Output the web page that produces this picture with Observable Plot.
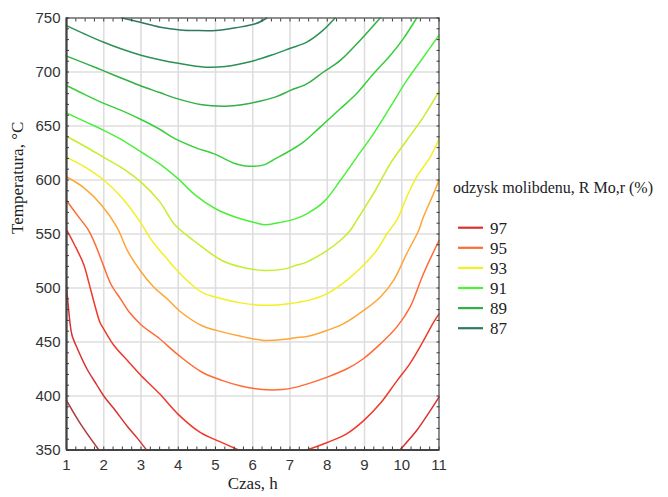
<!DOCTYPE html>
<html><head><meta charset="utf-8">
<script src="https://cdn.jsdelivr.net/npm/d3@7"></script>
<script src="https://cdn.jsdelivr.net/npm/@observablehq/plot@0.6"></script>
<style>
body{margin:0;background:#fff;}
#wrap{position:relative;width:668px;height:497px;overflow:hidden;background:#fff;}
#wrap svg.leg{position:absolute;left:0;top:0;}
</style></head><body><div id="wrap"></div>
<script>
// contour levels (odzysk molibdenu, %) and their colours
const levels = [98, 97, 96, 95, 94, 93, 92, 91, 90, 89, 88, 87];
const levelColors = ["#b03838", "#d83232", "#ee3a2a", "#ff6a35", "#ffa535", "#f2f020", "#c4ee2a", "#4cf03a", "#38d03a", "#30b045", "#2a9156", "#2e7a60"];
const legendLevels = [97, 95, 93, 91, 89, 87];
const xTicks = [1, 2, 3, 4, 5, 6, 7, 8, 9, 10, 11];
const yTicks = [350, 400, 450, 500, 550, 600, 650, 700, 750];
const xMinor = d3.range(1, 11.001, 0.25);
const yMinor = d3.range(350, 750.001, 10);

// contour lines: [czas h, temperatura °C]
const c98a = [[1,396],[1.38,374],[1.87,350]];
const c97a = [[1,501],[1.03,490],[1.06,479],[1.1,466],[1.15,456],[1.29,444],[1.55,425],[1.8,411],[2,400],[2.3,387],[2.63,372],[2.9,361],[3.15,350]];
const c97b = [[9.95,350],[10.4,368],[10.7,383],[11,399]];
const c96a = [[1,554],[1.2,541],[1.46,522],[1.6,505],[1.73,488],[1.9,468],[2,462],[2.27,447],[2.63,433],[3,419],[3.5,402],[4,383],[4.6,366],[5.1,358],[5.62,350]];
const c96b = [[7.45,350],[8,357],[8.52,365],[8.97,377],[9.42,393],[9.87,414],[10.22,430],[10.58,451],[10.85,468],[11,476]];
const c95 = [[1,581],[1.3,567],[1.6,553],[1.8,538],[2,520],[2.2,503],[2.45,490],[2.7,477],[3,466],[3.5,453],[4,438],[4.64,422],[5.17,414.5],[5.71,409],[6.25,406],[6.79,406],[7.14,408],[7.45,411],[8,417.5],[8.52,425],[8.97,434.5],[9.42,448],[9.87,464],[10.22,482],[10.58,513],[11,544]];
const c94 = [[1,603],[1.46,593],[1.91,578],[2.36,556],[2.63,535],[2.98,516],[3.34,501],[3.7,490],[4.06,478],[4.64,465],[5,461],[5.71,455],[6.29,451.5],[6.87,452.5],[7.14,454],[7.45,455],[7.99,460.7],[8.44,467],[8.97,479],[9.42,491.5],[9.78,507],[10.13,531.6],[10.45,553],[10.58,565.7],[10.85,587],[11,600]];
const c93 = [[1,621],[1.5,612],[2,600],[2.5,583],[3,560],[3.25,546],[3.5,535],[3.7,527],[3.92,518],[4.3,505],[4.64,496],[5.17,490],[5.71,486],[6.34,484],[6.96,485.4],[7.54,489],[7.99,494.6],[8.52,507],[8.97,521],[9.33,535],[9.6,550],[9.87,563],[10.13,584],[10.4,603],[10.76,621],[11,638]];
const c92 = [[1,640.5],[1.5,631],[2,621],[2.5,611],[3,598],[3.5,580],[3.92,558],[4.41,544],[4.64,538],[5.17,525.5],[5.71,519.3],[6.29,516.2],[6.87,517.7],[7.14,520.8],[7.45,524],[7.99,534.7],[8.35,544],[8.61,553],[8.79,562.6],[9.24,587.3],[9.69,615],[10.13,636.6],[10.58,658.2],[11,682]];
const c91 = [[1,662],[1.5,654],[2,646],[2.5,637],[3,626],[3.5,615],[4,601],[4.46,586],[5,573.4],[5.53,565.7],[6.07,560.4],[6.35,558.6],[6.78,561],[7.14,564],[7.45,568.7],[7.9,579.5],[8.35,599.5],[8.79,621],[9.24,642.7],[9.69,667.4],[10.13,692],[10.58,713.7],[11,734]];
const c90 = [[1,687.5],[1.5,679],[2,671],[2.5,664],[3,656],[3.5,647],[3.92,638],[4.46,630],[5,623.7],[5.5,615.5],[5.8,613],[6.3,614],[6.6,619.6],[7.01,627.3],[7.36,635],[7.81,649],[8.35,666],[8.79,680],[9.24,698.3],[9.69,715.3],[10.04,730.7],[10.4,750]];
const c89 = [[1,714.7],[1.5,708],[2,701],[2.5,694],[3,687],[3.5,681],[3.92,675.8],[4.64,669.6],[5.26,668.4],[5.71,669.6],[6.16,672.7],[6.6,676.7],[7.01,683],[7.45,689],[7.9,700],[8.35,710.7],[8.88,729.2],[9.42,750]];
const c88 = [[1,743],[1.5,735],[2,727.5],[2.5,721],[3,715.5],[3.5,711.3],[4,708],[4.73,704.5],[5.26,705.1],[5.98,710],[6.6,716.8],[7.01,722],[7.45,727.6],[7.86,737.8],[8.21,750]];
const c87 = [[2.49,750],[2.98,746],[3.52,741.5],[4.06,739],[4.46,738.4],[5,738.4],[5.53,740.9],[6.07,744.6],[6.38,750]];

const contours = [
  {level: 98, seg: "98a", pts: c98a},
  {level: 97, seg: "97a", pts: c97a},
  {level: 97, seg: "97b", pts: c97b},
  {level: 96, seg: "96a", pts: c96a},
  {level: 96, seg: "96b", pts: c96b},
  {level: 95, seg: "95", pts: c95},
  {level: 94, seg: "94", pts: c94},
  {level: 93, seg: "93", pts: c93},
  {level: 92, seg: "92", pts: c92},
  {level: 91, seg: "91", pts: c91},
  {level: 90, seg: "90", pts: c90},
  {level: 89, seg: "89", pts: c89},
  {level: 88, seg: "88", pts: c88},
  {level: 87, seg: "87", pts: c87}
];
const rows = contours.flatMap(c => c.pts.map(([x, y]) => ({level: c.level, seg: c.seg, x, y})));

const serif = "'Liberation Serif', 'Times New Roman', serif";
const tickColor = "#3a3a3a";
const minorOpts = {tickSize: -3, tickFormat: () => "", stroke: tickColor, label: null};
const plot = Plot.plot({
  width: 668, height: 497,
  marginLeft: 66, marginRight: 229.5, marginTop: 17.5, marginBottom: 47.5,
  x: {domain: [1, 11]},
  y: {domain: [350, 750]},
  color: {type: "ordinal", domain: levels, range: levelColors},
  style: {fontFamily: "'Liberation Sans', Arial, sans-serif", fontSize: "15px", color: "#333", background: "#fff"},
  marks: [
    Plot.gridX(xTicks, {stroke: "#dedede", strokeOpacity: 1, strokeWidth: 1.6}),
    Plot.gridY(yTicks, {stroke: "#dedede", strokeOpacity: 1, strokeWidth: 1.6}),
    Plot.line(rows, {x: "x", y: "y", z: "seg", stroke: "level", strokeWidth: 1.5, curve: "catmull-rom"}),
    Plot.frame({stroke: "#555", strokeWidth: 1.2}),
    Plot.ruleX([1], {stroke: "#444", strokeWidth: 2.2}),
    Plot.ruleY([350], {stroke: "#444", strokeWidth: 2.2}),
    Plot.axisX({ticks: xMinor, anchor: "bottom", ...minorOpts}),
    Plot.axisX({ticks: xMinor, anchor: "top", ...minorOpts}),
    Plot.axisY({ticks: yMinor, anchor: "left", ...minorOpts}),
    Plot.axisY({ticks: yMinor, anchor: "right", ...minorOpts}),
    Plot.axisX({ticks: xTicks, anchor: "bottom", tickSize: 0, tickPadding: 9, fill: "#333", fontSize: 15, label: null}),
    Plot.axisY({ticks: yTicks, anchor: "left", tickSize: 0, tickPadding: 6, fill: "#333", fontSize: 15, label: null}),
    Plot.text(["Czas, h"], {frameAnchor: "bottom", dy: 39, fontSize: 17, fontFamily: serif, fill: "#222"}),
    Plot.text(["Temperatura, °C"], {frameAnchor: "left", rotate: -90, dx: -49, fontSize: 17, fontFamily: serif, fill: "#222"})
  ]
});
const wrap = document.getElementById("wrap");
wrap.appendChild(plot);

// legend (right side)
const color = plot.scale("color");
const leg = d3.select(wrap).append("svg").attr("class", "leg").attr("width", 668).attr("height", 497);
leg.append("text").attr("x", 453).attr("y", 192.7).attr("font-size", 16).attr("font-family", serif).attr("fill", "#222")
  .text("odzysk molibdenu, R Mo,r (%)");
legendLevels.forEach((l, i) => {
  const cy = 227.7 + i * 20.1;
  leg.append("line").attr("x1", 458).attr("x2", 483).attr("y1", cy).attr("y2", cy)
    .attr("stroke", color.apply(l)).attr("stroke-width", 2.2);
  leg.append("text").attr("x", 490).attr("y", cy + 6).attr("font-size", 17).attr("font-family", serif).attr("fill", "#222").text(l);
});
</script></body></html>
